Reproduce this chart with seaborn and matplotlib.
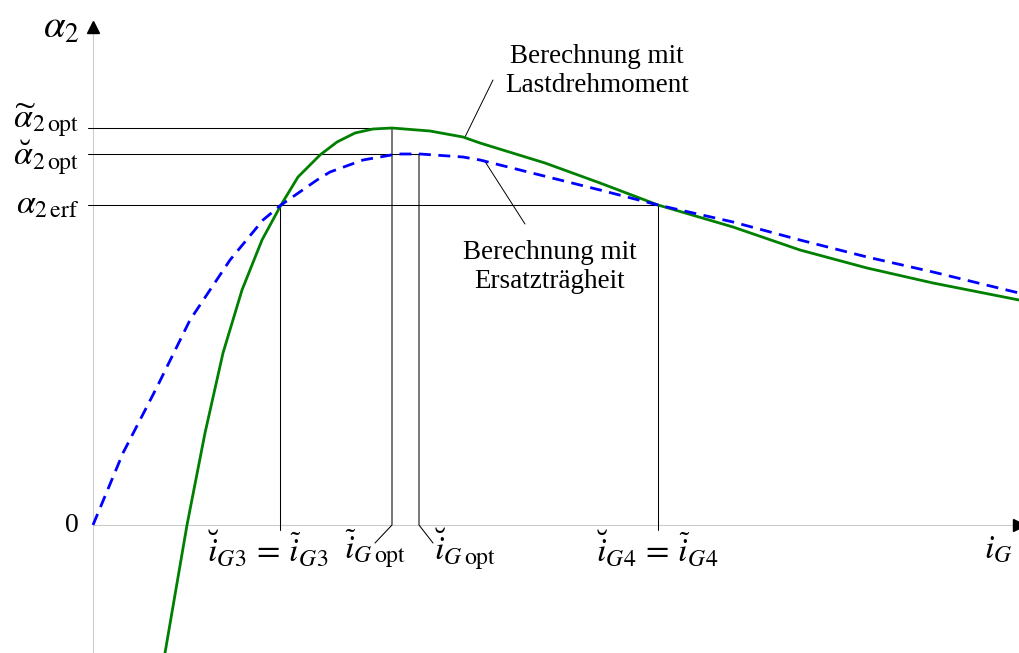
import numpy as np
import pandas as pd
import matplotlib.pyplot as plt
import seaborn as sns

# curves (x = i_G, y = alpha_2, arbitrary units)
x_last = [0.72, 0.94, 1.12, 1.30, 1.49, 1.69, 1.88, 2.05, 2.27, 2.44, 2.62, 2.80, 2.99,
          3.37, 3.70, 3.87, 4.52, 5.07, 5.65, 6.40, 7.07, 7.74, 8.40, 9.26]
y_last = [-1.28, 0.00, 0.92, 1.72, 2.35, 2.85, 3.20, 3.48, 3.70, 3.83, 3.92, 3.96, 3.97,
          3.94, 3.88, 3.82, 3.62, 3.42, 3.20, 2.98, 2.75, 2.57, 2.42, 2.25]
x_ersatz = [0.00, 0.30, 0.64, 0.97, 1.37, 1.70, 1.88, 2.24, 2.37, 2.70, 3.04, 3.27,
            3.70, 3.87, 4.47, 5.07, 5.65, 6.40, 7.07, 7.74, 8.40, 9.26]
y_ersatz = [0.00, 0.72, 1.38, 2.05, 2.65, 3.05, 3.20, 3.45, 3.53, 3.65, 3.71, 3.71,
            3.68, 3.65, 3.50, 3.35, 3.20, 3.03, 2.85, 2.68, 2.53, 2.32]

# marked levels
a_tilde_opt = 3.97
a_breve_opt = 3.71
a_erf = 3.20
i_g3 = 1.87
i_gopt_tilde = 2.99
i_gopt_breve = 3.26
i_g4 = 5.65

sns.set_style("white")
plt.rcParams["font.family"] = ["Liberation Serif", "DejaVu Serif"]
plt.rcParams["mathtext.fontset"] = "stix"
plt.rcParams["text.color"] = "black"

fig = plt.figure(figsize=(10.19, 6.53), dpi=100)
ax = fig.add_axes([0, 0, 1, 1])
ax.set_xlim(-0.93, 9.26)
ax.set_ylim(-1.28, 5.25)
ax.set_axis_off()

# axes with arrow heads
ax.plot([0, 0], [-1.28, 5.0], color="#cccccc", lw=0.8, zorder=1)
ax.plot([0, 9.2], [0, 0], color="#cccccc", lw=0.8, zorder=1)
ax.plot(0, 4.98, marker="^", color="black", markersize=8, zorder=5)
ax.plot(9.26, 0, marker=">", color="black", markersize=8, zorder=5, clip_on=False)

# helper lines
lk = dict(color="black", lw=0.75, zorder=2)
ax.plot([-0.05, i_gopt_tilde], [a_tilde_opt, a_tilde_opt], **lk)
ax.plot([-0.05, i_gopt_breve], [a_breve_opt, a_breve_opt], **lk)
ax.plot([-0.05, i_g4], [a_erf, a_erf], **lk)
ax.plot([i_g3, i_g3], [-0.05, a_erf], **lk)
ax.plot([i_g4, i_g4], [-0.05, a_erf], **lk)
ax.plot([2.82, i_gopt_tilde, i_gopt_tilde], [-0.18, 0, a_tilde_opt], **lk)
ax.plot([3.40, i_gopt_breve, i_gopt_breve], [-0.18, 0, a_breve_opt], **lk)

# curves
df_last = pd.DataFrame({"x": x_last, "y": y_last})
df_ersatz = pd.DataFrame({"x": x_ersatz, "y": y_ersatz})
sns.lineplot(data=df_last, x="x", y="y", ax=ax, color="green", lw=2.0, sort=False, zorder=3)
sns.lineplot(data=df_ersatz, x="x", y="y", ax=ax, color="blue", lw=2.0, sort=False,
             dashes=False, zorder=4).lines[-1].set_dashes((4.3, 2.7))

# leader lines and notes
ax.plot([4.00, 3.72], [4.45, 3.88], color="black", lw=0.7)
ax.plot([3.91, 4.32], [3.65, 3.01], color="black", lw=0.7)
ax.text(5.04, 4.54, "Berechnung mit\nLastdrehmoment", fontsize=19.5, ha="center", va="center",
        linespacing=1.25)
ax.text(4.57, 2.58, "Berechnung mit\nErsatzträgheit", fontsize=19.5, ha="center", va="center",
        linespacing=1.25)

# labels
ms = 24.5
ax.text(-0.14, 4.97, r"$\alpha_2$", fontsize=28, ha="right", va="center")
ax.text(-0.14, 4.05, r"$\widetilde{\alpha}_{2\,\mathrm{opt}}$", fontsize=ms, ha="right", va="center")
ax.text(-0.14, 3.68, r"$\breve{\alpha}_{2\,\mathrm{opt}}$", fontsize=ms, ha="right", va="center")
ax.text(-0.14, 3.20, r"$\alpha_{2\,\mathrm{erf}}$", fontsize=ms, ha="right", va="center")
ax.text(-0.14, 0.0, "0", fontsize=20, ha="right", va="center")
ax.text(1.75, -0.24, r"$\breve{i}_{G3}\,=\,\widetilde{i}_{G3}$", fontsize=ms, ha="center", va="center")
ax.text(2.82, -0.24, r"$\widetilde{i}_{G\,\mathrm{opt}}$", fontsize=ms, ha="center", va="center")
ax.text(3.72, -0.24, r"$\breve{i}_{G\,\mathrm{opt}}$", fontsize=ms, ha="center", va="center")
ax.text(5.64, -0.24, r"$\breve{i}_{G4}\,=\,\widetilde{i}_{G4}$", fontsize=ms, ha="center", va="center")
ax.text(9.05, -0.24, r"$i_G$", fontsize=ms, ha="center", va="center")

fig.savefig("out.png", dpi=100)
